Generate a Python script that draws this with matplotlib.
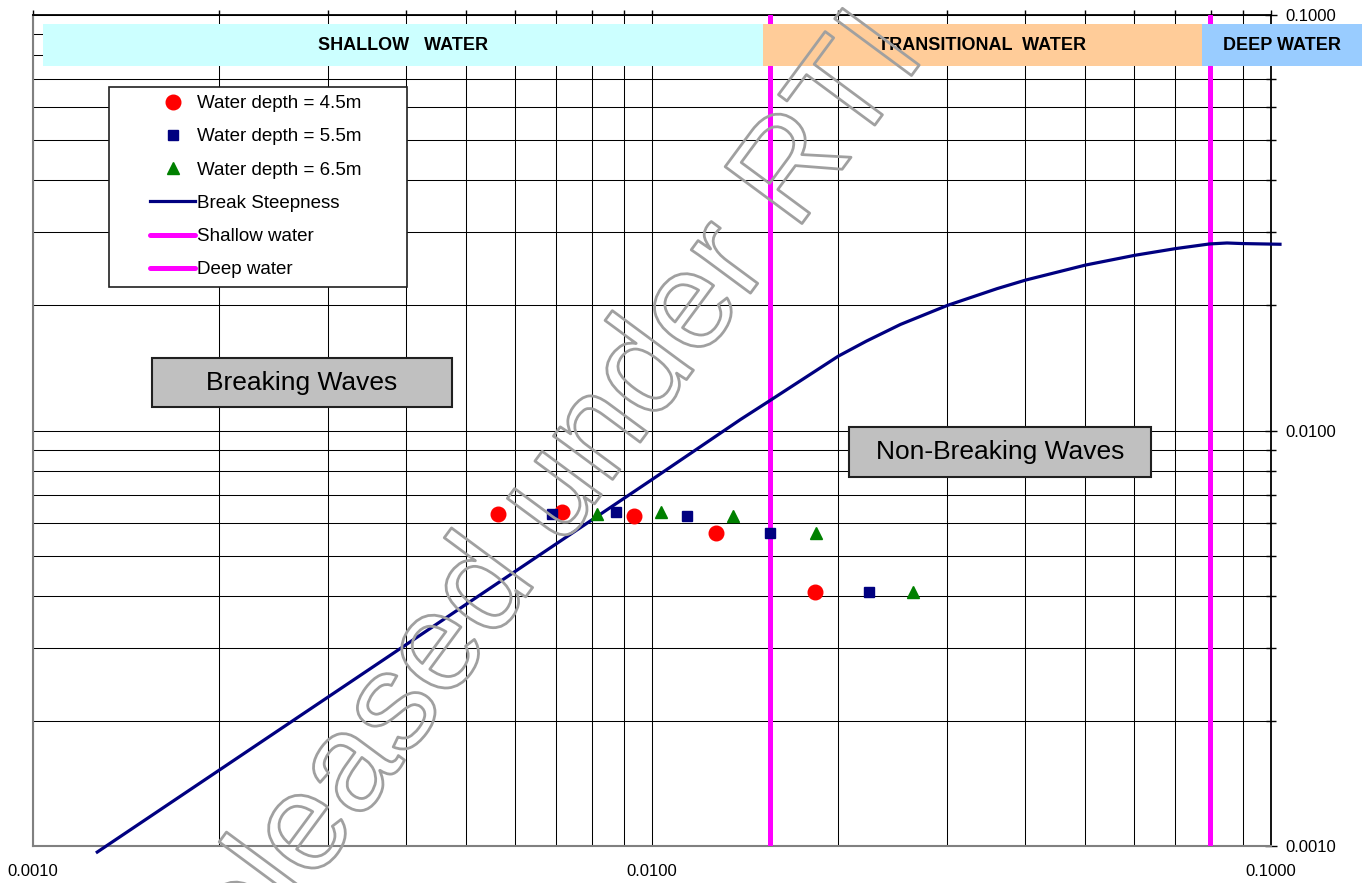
import matplotlib
matplotlib.use('Agg')
import matplotlib.pyplot as plt
import matplotlib.patheffects as pe
from matplotlib.patches import Rectangle
from matplotlib.ticker import LogLocator, FuncFormatter, NullFormatter

plt.rcParams['font.family'] = ['Liberation Sans', 'DejaVu Sans']

# Données (d/gT² en x, H/gT² en y)
x_45 = [0.00564, 0.00716, 0.00935, 0.01269, 0.01834]
x_55 = [0.00690, 0.00875, 0.01139, 0.01551, 0.02242]
x_65 = [0.00815, 0.01034, 0.01352, 0.01840, 0.02640]
y_waves = [0.00631, 0.00638, 0.00624, 0.00568, 0.00409]

break_x = [0.00127, 0.005, 0.01, 0.0139, 0.01546, 0.0200, 0.0222, 0.0252, 0.0300,
           0.0361, 0.0402, 0.0502, 0.0603, 0.0702, 0.0796, 0.0849, 0.0897, 0.1034]
break_y = [0.000967, 0.00381, 0.00762, 0.01063, 0.01177, 0.0151, 0.01641, 0.0180, 0.0200,
           0.02195, 0.02303, 0.02502, 0.02641, 0.02741, 0.02812, 0.02827, 0.02818, 0.02807]

shallow_limit = 0.0155
deep_limit = 0.0796

fig = plt.figure(figsize=(13.71, 8.83), dpi=100)
ax = fig.add_axes([33 / 1371, 37 / 883, 1238 / 1371, 831 / 883])

ax.set_xscale('log')
ax.set_yscale('log')
ax.set_xlim(0.001, 0.1)
ax.set_ylim(0.001, 0.1)

# Grille
for axis in (ax.xaxis, ax.yaxis):
    axis.set_major_locator(LogLocator(base=10))
    axis.set_minor_locator(LogLocator(base=10, subs=range(2, 10)))
    axis.set_major_formatter(FuncFormatter(lambda v, p: f'{v:.4f}'))
    axis.set_minor_formatter(NullFormatter())
ax.grid(which='both', color='black', linewidth=0.75, zorder=0)
ax.set_axisbelow(True)

ax.yaxis.tick_right()
ax.tick_params(axis='y', which='major', direction='inout', length=8, width=1, pad=6, labelsize=12)
ax.tick_params(axis='y', which='minor', direction='inout', length=6.5, width=1)
ax.tick_params(axis='x', which='both', bottom=False, top=True, labelbottom=True,
               direction='out', length=3.5, width=1, pad=9.5, labelsize=12)

for s in ('left', 'bottom'):
    ax.spines[s].set_color('#808080')
    ax.spines[s].set_linewidth(1.5)
for s in ('top', 'right'):
    ax.spines[s].set_color('black')
    ax.spines[s].set_linewidth(1.3)

# Limites eau peu profonde / eau profonde
l_sh = ax.axvline(shallow_limit, color='#FF00FF', lw=3.6, solid_capstyle='round', zorder=3,
                  label='Shallow water')
l_dp = ax.axvline(deep_limit, color='#FF00FF', lw=3.6, solid_capstyle='round', zorder=3,
                  label='Deep water')

# Courbe de déferlement
l_br, = ax.plot(break_x, break_y, color='#000080', lw=2.3, zorder=3, clip_on=False,
                label='Break Steepness')

# Points mesurés
p45, = ax.plot(x_45, y_waves, 'o', color='#FF0000', ms=10.5, ls='none', zorder=5,
               label='Water depth = 4.5m')
p55, = ax.plot(x_55, y_waves, 's', color='#000080', ms=7.8, ls='none', zorder=5,
               label='Water depth = 5.5m')
p65, = ax.plot(x_65, y_waves, '^', color='#008000', ms=8, ls='none', zorder=5,
               label='Water depth = 6.5m')

# Bandes en haut
bands = [(0.008, 0.5897, '#CCFFFF', 'SHALLOW   WATER'),
         (0.5897, 0.9443, '#FFCC99', 'TRANSITIONAL  WATER'),
         (0.9443, 1.0735, '#99CCFF', 'DEEP WATER')]
for x0, x1, c, t in bands:
    ax.add_patch(Rectangle((x0, 0.9386), x1 - x0, 0.989 - 0.9386, transform=ax.transAxes,
                           facecolor=c, edgecolor='none', clip_on=False, zorder=4))
    ax.text((x0 + x1) / 2, (0.9386 + 0.989) / 2, t, transform=ax.transAxes, ha='center',
            va='center', fontsize=13, fontweight='bold', zorder=5, clip_on=False)

# Boîtes de texte
for x0, x1, y0, y1, t in [(0.0961, 0.3384, 0.5283, 0.5872, 'Breaking Waves'),
                          (0.6594, 0.9028, 0.4444, 0.5038, 'Non-Breaking Waves')]:
    ax.add_patch(Rectangle((x0, y0), x1 - x0, y1 - y0, transform=ax.transAxes,
                           facecolor='#C0C0C0', edgecolor='#202020', lw=1.5, zorder=6))
    ax.text((x0 + x1) / 2, (y0 + y1) / 2, t, transform=ax.transAxes, ha='center',
            va='center', fontsize=19, zorder=7)

# Légende
ax.add_patch(Rectangle((0.0614, 0.6727), 0.3021 - 0.0614, 0.9134 - 0.6727,
                       transform=ax.transAxes, facecolor='white', edgecolor='#202020',
                       lw=1.2, zorder=7))
leg = ax.legend(handles=[p45, p55, p65, l_br, l_sh, l_dp], loc='upper left',
                bbox_to_anchor=((150 - 33) / 1238, (846 - 95) / 831), borderaxespad=0,
                borderpad=0, frameon=False, fontsize=13.5, handlelength=2.4,
                handletextpad=0.1, labelspacing=0.86, numpoints=1)
leg.set_zorder(8)

# Filigrane
fig.text(0.3858, 0.3975, 'Released under RTI', rotation=53.5, rotation_mode='anchor',
         ha='center', va='center', fontsize=100, color='none', zorder=20,
         path_effects=[pe.Stroke(linewidth=2, foreground='#A0A0A0')])

fig.savefig('out.png', dpi=100)
